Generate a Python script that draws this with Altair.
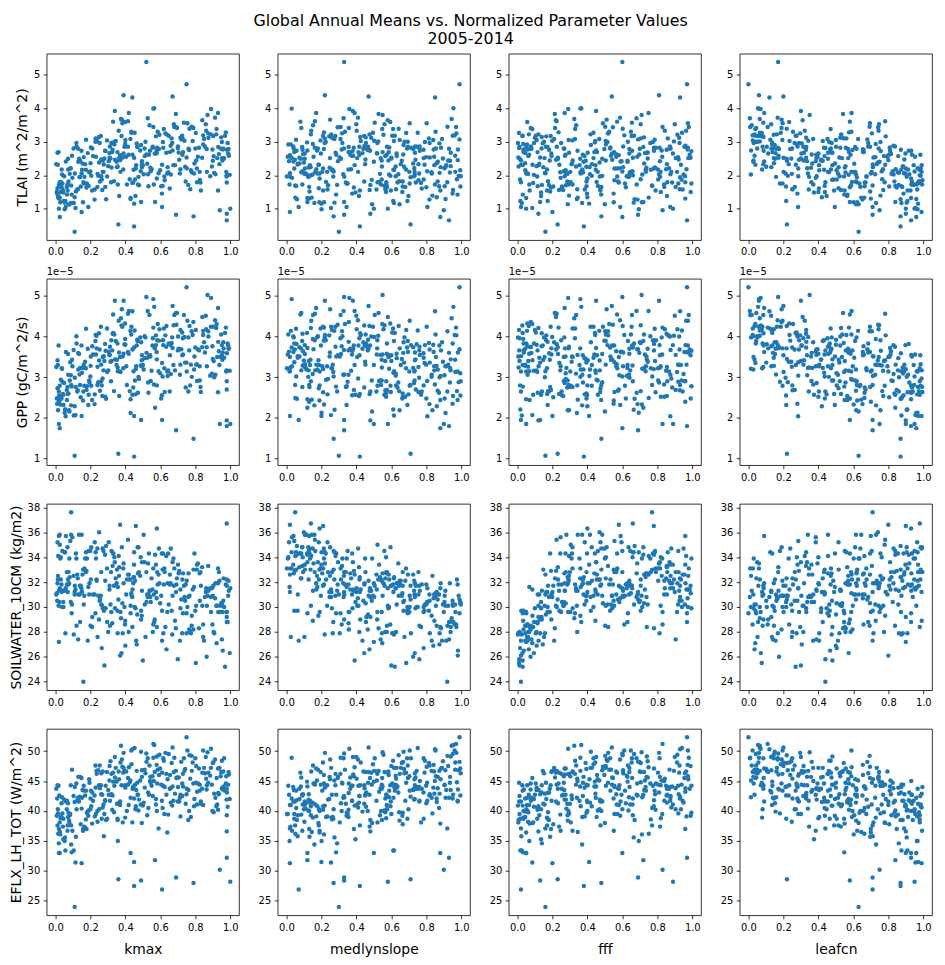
import altair as alt
import pandas as pd

# ---- parameter values (normalized, 0..1), one entry per ensemble member ----
kmax = [
    .03, .67, .21, .89, .45, .14, .76, .38, .58, .09,
    .97, .27, .61, .33, .81, .02, .49, .72, .17, .93,
    .40, .06, .55, .84, .24, .70, .12, .43, .99, .31,
    .64, .05, .86, .19, .47, .78, .26, .53, .01, .92,
    .35, .68, .11, .59, .80, .23, .44, .96, .15, .73,
    .37, .04, .62, .29, .85, .08, .51, .75, .20, .90,
    .42, .13, .66, .32, .98, .07, .56, .25, .83, .39,
    .16, .09, .52, .75, .11, .45, .36, .61, .79, 1.0,
    .69, .43, .98, .39, .67, .44, .87, .34, .56, .93,
    .035, .715, .285, .505, .945, .185, .625, .065, .825, .375,
    .145, .555, .305, .865, .225, .735, .025, .465, .915, .345,
    .095, .645, .265, .785, .055, .415, .955, .175, .605, .325,
    .885, .015, .485, .765, .245, .575, .125, .935, .395, .705,
    .205, .845, .445, .045, .665, .295, .985, .165, .535, .805,
    .075, .355, .595, .255, .975, .135, .635, .425, .895, .005,
    .215, .475, .755, .115, .655, .315, .925, .085, .545, .235,
    .815, .385, .195, .695, .455, .105, .585, .965, .275, .745,
    .155, .525, .875, .335, .615, .012, .405, .775, .565, .180,
    .725, .365, .855, .022, .495, .675, .435, .905, .028, .515,
    .362, .795, .952, .262, .642, .072, .472, .582, .992,
    .025, .98, .45, .94, .57, .49, .02, .15, .28, .50, .98, .46, .37, .58, .02,
    .018, .532, .284, .771, .093, .648, .415, .952, .193, .357,
    .874, .059, .468, .715, .236, .997, .141, .609, .327, .803,
    .025, .543, .398, .684, .117, .913, .262, .458, .761, .038,
    .592, .312, .826, .073, .495, .689, .166, .938, .378, .224,
    .575, .046, .729, .434, .121, .988, .287, .654, .174, .845,
    .352, .511, .066, .789, .253, .623, .409, .149, .908, .331,
    .008, .557, .203, .866, .453, .097, .677, .302, .962, .188,
    .617, .429, .053, .738, .277, .832, .131, .494, .948, .341,
    .599, .211, .701, .031, .447, .898, .162, .538, .388, .779,
    .241, .563, .082, .742, .364, .981, .138, .668, .318, .809,
    .012, .488, .249, .821, .057, .634, .372, .158, .922, .541,
    .104, .708, .309, .979, .201, .441, .069, .767, .296, .862,
    .016, .568, .383, .128, .793, .229, .957, .478, .088, .659,
    .337, .712, .178, .521, .889, .043, .399, .751, .271, .613,
    .931, .111, .462, .232, .692, .977, .036, .579, .356, .839,
    .152, .528, .268, .726, .014, .419, .903, .078, .629, .321,
]
medlynslope = [
    .57, .12, .88, .36, .03, .71, .48, .25, .94, .16,
    .62, .41, .79, .08, .53, .29, .67, .99, .45, .21,
    .84, .04, .37, .58, .13, .76, .32, .91, .47, .60,
    .19, .73, .40, .56, .09, .83, .28, .64, .95, .14,
    .50, .31, .86, .02, .69, .22, .77, .44, .11, .55,
    .98, .35, .61, .06, .89, .49, .18, .82, .27, .66,
    .39, .93, .15, .52, .74, .42, .97, .10, .34, .63,
    .92, .05, .33, .99, .30, .42, .71, .07, .27, .58,
    .33, .12, .48, .22, .47, .85, .55, .38, .03, .17,
    .80, .26, .68, .115, .855, .435, .755, .575, .205, .945,
    .665, .385, .015, .725, .235, .505, .145, .875, .325, .615,
    .965, .085, .785, .425, .275, .695, .545, .055, .905, .355,
    .625, .835, .175, .465, .985, .245, .515, .095, .745, .365,
    .595, .025, .635, .395, .815, .195, .455, .705, .285, .925,
    .665, .045, .555, .865, .215, .105, .475, .975, .625, .755,
    .375, .125, .705, .255, .585, .895, .405, .045, .805, .525,
    .155, .305, .935, .085, .545, .615, .335, .785, .165, .445,
    .725, .065, .485, .645, .225, .185, .845, .265, .955, .345,
    .605, .415, .735, .995, .295, .135, .495, .565, .215, .675,
    .142, .075, .792, .452, .882, .312, .572, .162, .382,
    .88, .93, .20, .90, .12, .33, .50, .02, .60, .39, .14, .21, .02, .19, .13,
    .412, .873, .058, .627, .284, .951, .163, .539, .733, .018,
    .318, .806, .467, .171, .648, .734, .936, .376, .092, .685,
    .521, .247, .594, .846, .132, .409, .997, .698, .042, .587,
    .214, .761, .488, .355, .909, .527, .023, .654, .445, .818,
    .105, .692, .309, .853, .575, .197, .378, .774, .261, .962,
    .138, .631, .979, .357, .819, .003, .541, .478, .876, .118,
    .663, .417, .588, .233, .751, .032, .561, .939, .083, .344,
    .712, .274, .201, .502, .064, .597, .866, .183, .453, .738,
    .994, .457, .039, .227, .616, .316, .799, .152, .684, .921,
    .103, .849, .535, .673, .249, .784, .331, .219, .571, .106,
    .735, .093, .422, .884, .611, .281, .966, .189, .548, .763,
    .329, .048, .517, .127, .859, .365, .091, .642, .268, .402,
    .051, .519, .802, .566, .177, .694, .981, .238, .904, .447,
    .011, .831, .386, .668, .256, .476, .151, .731, .583, .056,
    .356, .759, .914, .008, .293, .703, .258, .842, .546, .074,
    .612, .327, .953, .418, .186, .574, .209, .647, .972, .128,
]
fff = [
    .82, .45, .07, .29, .66, .93, .18, .51, .74, .37,
    .03, .88, .24, .57, .96, .14, .42, .69, .31, .79,
    .11, .59, .85, .22, .48, .01, .76, .34, .64, .99,
    .05, .27, .90, .46, .72, .36, .19, .81, .55, .12,
    .63, .98, .40, .16, .53, .86, .09, .70, .28, .44,
    .02, .92, .33, .67, .21, .50, .87, .13, .60, .39,
    .75, .08, .95, .25, .58, .17, .83, .47, .30, .64,
    .02, .77, .60, .97, .16, .38, .23, .02, .48, .89,
    .69, .05, .12, .81, .54, .93, .71, .45, .36, .27,
    .62, .10, .84, .415, .265, .045, .555, .905, .735, .325,
    .205, .975, .595, .075, .385, .655, .345, .145, .875, .505,
    .535, .245, .015, .445, .665, .955, .185, .785, .395, .115,
    .625, .295, .825, .035, .485, .165, .945, .565, .225, .745,
    .425, .055, .885, .135, .705, .315, .095, .615, .275, .505,
    .395, .035, .915, .575, .235, .485, .065, .705, .335, .855,
    .195, .635, .975, .085, .455, .745, .155, .555, .265, .895,
    .685, .005, .375, .215, .805, .025, .525, .435, .645, .285,
    .725, .125, .925, .175, .775, .475, .565, .045, .365, .995,
    .105, .855, .605, .255, .815, .355, .435, .062, .712, .152,
    .965, .312, .515, .922, .412, .232, .682, .792, .272,
    .60, .97, .41, .83, .72, .13, .05, .20, .012, .03, .66, .78, .58, .40, .96,
    .553, .116, .781, .342, .031, .667, .224, .905, .459, .068,
    .518, .874, .163, .967, .293, .094, .629, .398, .853, .009,
    .305, .738, .056, .446, .187, .587, .958, .135, .268, .714,
    .497, .077, .939, .371, .604, .214, .816, .426, .028, .687,
    .889, .173, .329, .649, .051, .541, .995, .253, .763, .611,
    .148, .384, .479, .076, .927, .571, .292, .656, .157, .443,
    .991, .012, .532, .819, .941, .247, .705, .109, .359, .588,
    .813, .468, .694, .199, .022, .474, .378, .086, .724, .542,
    .276, .138, .872, .453, .733, .058, .919, .336, .804, .502,
    .061, .839, .287, .394, .977, .181, .638, .003, .857, .568,
    .402, .658, .139, .781, .017, .295, .913, .551, .085, .344,
    .876, .221, .729, .471, .044, .985, .315, .602, .113, .843,
    .751, .194, .489, .929, .362, .632, .037, .277, .583, .961,
    .506, .058, .192, .697, .418, .238, .033, .867, .316, .771,
    .172, .641, .121, .828, .546, .302, .169, .973, .007, .231,
    .448, .681, .262, .374, .935, .067, .653, .288, .519, .787,
]
leafcn = [
    .40, .81, .55, .07, .33, .62, .94, .19, .48, .73,
    .27, .99, .04, .58, .36, .86, .15, .68, .23, .91,
    .50, .09, .77, .31, .64, .44, .03, .96, .57, .20,
    .70, .39, .13, .84, .61, .46, .08, .92, .28, .53,
    .75, .01, .42, .89, .25, .56, .98, .16, .34, .66,
    .80, .18, .47, .87, .37, .63, .05, .52, .95, .22,
    .59, .14, .83, .29, .67, .49, .11, .74, .97, .40,
    .44, .71, .17, .00, .63, .87, .22, .71, .87, .95,
    .71, .93, .90, .06, .20, .12, .35, .30, .06, .09,
    .58, .33, .88, .615, .745, .155, .995, .265, .455, .065,
    .805, .525, .385, .175, .965, .085, .645, .305, .725, .425,
    .035, .855, .505, .235, .905, .695, .415, .125, .875, .575,
    .285, .755, .015, .595, .225, .785, .345, .815, .105, .475,
    .985, .135, .665, .375, .545, .025, .685, .195, .935, .315,
    .835, .465, .145, .615, .575, .455, .035, .765, .885, .085,
    .435, .905, .195, .955, .655, .245, .535, .285, .825, .065,
    .395, .715, .555, .045, .485, .875, .255, .145, .705, .935,
    .365, .605, .525, .975, .755, .515, .795, .405, .055, .635,
    .275, .565, .685, .215, .335, .945, .185, .775, .602, .052,
    .322, .495, .462, .892, .712, .152, .932, .432, .172,
    .96, .93, .97, .75, .84, .58, .90, .99, .30, .48, .98, .90, .80, .93, .70,
    .137, .664, .917, .251, .548, .042, .782, .389, .611, .963,
    .706, .284, .501, .842, .194, .573, .425, .887, .329, .076,
    .779, .358, .233, .991, .696, .167, .522, .447, .618, .014,
    .239, .838, .478, .913, .131, .541, .347, .734, .071, .652,
    .898, .216, .452, .589, .081, .303, .757, .403, .979, .024,
    .516, .857, .566, .189, .264, .674, .948, .087, .861, .136,
    .437, .314, .808, .597, .065, .385, .747, .555, .218, .494,
    .168, .627, .967, .342, .711, .927, .028, .782, .536, .416,
    .504, .131, .281, .592, .874, .658, .726, .019, .472, .693,
    .248, .371, .818, .102, .571, .872, .158, .476, .619, .985,
    .318, .762, .086, .557, .909, .455, .201, .622, .039, .931,
    .471, .289, .812, .676, .146, .388, .993, .219, .547, .744,
    .663, .113, .695, .252, .896, .044, .467, .587, .336, .829,
    .277, .512, .848, .362, .163, .529, .728, .968, .029, .436,
    .331, .212, .404, .953, .742, .588, .078, .654, .882, .171,
    .433, .008, .771, .983, .271, .584, .057, .616, .296, .551,
]

# ---- global annual means 2005-2014, same member order ----
tlai = [
    1.50, 2.74, 1.54, 3.98, 2.52, 1.94, 1.71, 3.66, 2.67, 1.17,
    3.18, 2.10, 2.31, 3.60, 1.79, 1.71, 2.90, 3.07, 2.33, 1.54,
    3.05, 2.41, 2.18, 3.64, 1.65, 2.81, 2.96, 1.29, 2.78, 2.52,
    2.05, 1.97, 3.52, 1.68, 2.84, 2.09, 3.17, 2.03, 1.45, 3.22,
    2.40, 3.44, 1.34, 2.06, 2.80, 3.10, 1.77, 2.79, 2.05, 2.69,
    2.45, 1.75, 3.38, 1.28, 3.08, 1.13, 2.80, 2.53, 2.11, 2.43,
    3.86, 2.79, 2.02, 2.96, 1.78, 1.54, 3.44, 2.38, 1.78, 2.65,
    1.79, 1.69, 5.38, 4.72, 0.31, 0.47, 0.53, 1.05, 0.77, 1.00,
    0.82, 1.32, 0.85, 4.39, 4.35, 4.32, 3.80, 3.92, 3.99, 3.86,
    1.64, 3.12, 1.65, 2.03, 2.80, 2.66, 1.85, 1.65, 2.10, 3.68,
    1.66, 2.82, 2.42, 2.78, 1.57, 3.57, 1.33, 2.95, 2.03, 3.02,
    2.58, 2.09, 1.87, 3.02, 1.18, 2.85, 2.44, 3.06, 1.67, 2.69,
    1.97, 1.39, 2.74, 2.75, 1.98, 3.16, 1.57, 2.63, 2.85, 2.68,
    1.98, 2.92, 1.78, 1.48, 3.10, 3.04, 2.96, 1.75, 2.61, 2.44,
    1.81, 2.69, 3.21, 1.81, 3.28, 2.49, 3.22, 1.88, 2.26, 2.33,
    2.57, 1.95, 3.55, 1.02, 2.69, 2.50, 2.51, 2.20, 2.12, 3.01,
    2.55, 2.53, 2.08, 3.41, 1.87, 1.17, 3.30, 2.51, 2.10, 1.81,
    2.35, 2.34, 3.12, 1.82, 2.99, 1.61, 2.55, 2.15, 4.00, 1.75,
    3.18, 1.38, 2.86, 1.66, 2.42, 2.30, 3.27, 2.57, 1.19, 3.00,
    3.33, 2.35, 2.99, 2.47, 2.24, 2.49, 1.72, 2.82, 2.58,
    0.75, 0.65, 1.15, 0.95, 1.20, 1.20, 1.00, 0.90, 2.50, 2.30, 2.00, 2.20, 2.60, 1.90, 1.30,
    2.69, 1.67, 2.73, 1.58, 1.42, 3.18, 3.61, 2.51, 2.10, 1.72,
    3.25, 1.05, 2.85, 2.18, 3.05, 2.01, 2.43, 1.45, 2.76, 3.26,
    1.79, 2.22, 3.59, 2.30, 1.51, 3.72, 1.97, 1.38, 2.79, 2.02,
    2.78, 2.86, 1.86, 2.17, 2.24, 3.83, 1.95, 2.33, 3.17, 1.27,
    2.65, 1.23, 3.08, 3.30, 2.85, 2.65, 2.72, 1.60, 2.16, 3.19,
    2.24, 2.57, 1.42, 3.41, 2.96, 1.96, 1.72, 2.73, 2.07, 2.98,
    1.50, 2.85, 2.83, 2.10, 3.27, 1.92, 3.52, 2.27, 2.49, 1.05,
    2.82, 3.08, 0.98, 3.03, 2.32, 1.54, 2.40, 2.31, 3.13, 2.46,
    2.15, 2.80, 2.86, 1.80, 2.16, 2.77, 2.54, 3.49, 2.17, 3.45,
    2.04, 1.72, 2.04, 2.25, 2.51, 2.76, 1.95, 2.96, 1.79, 2.20,
    2.67, 2.12, 3.14, 2.82, 1.23, 2.67, 2.10, 1.19, 3.38, 2.73,
    2.80, 2.46, 2.66, 1.96, 2.36, 2.61, 1.72, 3.39, 1.96, 3.33,
    1.33, 2.65, 3.55, 1.58, 2.05, 3.00, 2.77, 1.70, 2.21, 2.88,
    2.92, 2.05, 1.63, 2.62, 3.22, 1.56, 2.93, 2.21, 2.44, 1.68,
    2.84, 2.05, 2.30, 2.55, 3.43, 2.10, 2.17, 2.77, 2.26, 2.52,
    2.16, 3.70, 1.56, 2.61, 2.31, 2.61, 3.17, 1.13, 3.25, 2.23,
]
gpp_1e5 = [  # GPP in units of 1e-5 gC/m^2/s
    2.52, 3.72, 2.44, 4.95, 3.73, 2.81, 2.65, 4.67, 3.44, 2.31,
    4.09, 2.97, 3.35, 4.54, 2.91, 2.65, 3.86, 3.69, 3.38, 2.63,
    3.80, 3.62, 3.16, 4.48, 2.81, 3.66, 4.01, 2.12, 3.70, 3.54,
    3.14, 2.86, 4.51, 2.57, 3.89, 3.01, 4.24, 2.87, 2.35, 4.21,
    3.30, 4.53, 2.29, 3.15, 3.73, 4.04, 2.57, 3.86, 3.23, 3.56,
    3.14, 2.89, 4.20, 2.47, 3.86, 2.16, 4.01, 3.36, 3.02, 3.45,
    4.63, 3.60, 3.08, 3.91, 2.70, 2.59, 4.22, 3.41, 2.76, 3.58,
    2.65, 2.81, 4.97, 5.21, 1.07, 1.05, 1.12, 1.95, 1.49, 1.85,
    1.70, 2.46, 1.94, 4.88, 4.75, 4.62, 5.02, 4.88, 4.92, 4.70,
    2.48, 4.16, 2.52, 3.19, 3.50, 3.70, 2.64, 2.69, 3.27, 4.45,
    2.51, 3.78, 3.63, 3.74, 2.58, 4.53, 2.45, 3.78, 3.06, 3.89,
    3.43, 3.17, 2.80, 4.04, 2.20, 3.62, 3.43, 4.19, 2.48, 3.66,
    3.04, 2.19, 3.98, 3.66, 2.88, 4.03, 2.65, 3.64, 3.81, 3.70,
    2.79, 4.14, 2.75, 2.57, 3.84, 4.20, 3.83, 2.79, 3.51, 3.31,
    2.60, 3.83, 4.18, 2.67, 4.22, 3.57, 4.26, 2.66, 3.09, 3.25,
    3.56, 3.01, 4.39, 2.07, 3.54, 3.38, 3.50, 3.37, 2.91, 4.02,
    3.69, 3.51, 2.87, 4.58, 2.92, 2.06, 4.31, 3.48, 3.17, 2.75,
    3.23, 3.48, 4.00, 2.66, 3.91, 2.73, 3.27, 3.31, 4.73, 2.78,
    4.10, 2.54, 3.61, 2.55, 3.54, 3.30, 4.24, 3.40, 2.33, 3.98,
    4.39, 3.51, 3.79, 3.31, 3.03, 3.57, 2.62, 3.91, 3.71,
    1.75, 1.80, 2.05, 1.85, 2.25, 1.95, 1.85, 2.05, 3.40, 3.30, 2.90, 3.20, 3.50, 2.80, 2.40,
    3.78, 2.62, 3.82, 2.80, 2.77, 3.83, 4.56, 3.55, 2.92, 3.15,
    4.13, 2.04, 3.92, 3.31, 3.71, 3.16, 3.23, 2.56, 4.07, 4.16,
    2.79, 3.51, 4.32, 3.17, 2.76, 4.40, 2.90, 2.58, 3.98, 3.21,
    3.90, 3.75, 2.92, 3.06, 3.27, 4.58, 3.24, 3.30, 4.27, 2.34,
    3.79, 2.32, 3.96, 4.05, 3.83, 3.78, 3.65, 2.65, 3.22, 4.04,
    3.43, 3.47, 2.44, 4.36, 3.68, 3.22, 2.81, 3.78, 3.00, 4.09,
    2.48, 3.96, 3.51, 3.27, 4.15, 3.27, 4.28, 3.17, 3.71, 2.32,
    3.79, 4.14, 2.13, 3.99, 3.52, 2.64, 3.19, 3.42, 4.05, 3.44,
    3.10, 3.76, 4.00, 2.94, 3.15, 3.76, 3.31, 4.53, 3.22, 4.13,
    3.26, 2.82, 2.92, 3.36, 3.61, 3.59, 3.07, 3.98, 2.90, 3.32,
    3.42, 3.29, 4.08, 3.66, 2.21, 3.75, 3.13, 2.43, 4.31, 3.55,
    3.67, 3.68, 3.56, 3.17, 3.28, 3.68, 2.76, 4.26, 3.13, 4.18,
    2.49, 3.71, 4.24, 2.68, 3.19, 3.89, 3.61, 2.96, 3.05, 3.79,
    4.05, 3.06, 2.69, 3.60, 4.24, 2.59, 3.94, 3.14, 3.50, 3.02,
    3.87, 2.99, 3.27, 3.56, 4.29, 3.14, 3.22, 3.62, 3.24, 3.74,
    3.11, 4.63, 2.54, 3.54, 3.30, 3.58, 4.24, 2.19, 4.03, 3.40,
]
soilwater = [
    34.0, 33.6, 28.4, 29.6, 34.4, 31.7, 30.8, 34.8, 28.4, 35.8,
    25.2, 34.7, 29.7, 34.3, 33.4, 31.3, 29.7, 30.6, 33.9, 33.1,
    26.9, 35.7, 32.3, 30.1, 34.7, 25.8, 33.9, 30.1, 32.1, 31.7,
    29.6, 31.3, 31.2, 34.5, 34.8, 29.3, 30.9, 33.5, 30.5, 30.1,
    31.9, 33.1, 31.2, 32.6, 29.7, 34.4, 28.4, 30.5, 35.8, 32.7,
    26.1, 34.5, 31.8, 34.9, 27.3, 33.9, 33.6, 27.9, 34.5, 30.9,
    32.6, 27.4, 34.7, 29.6, 31.7, 31.2, 28.6, 36.0, 32.8, 31.9,
    24.0, 37.6, 32.8, 29.5, 31.0, 32.4, 30.6, 27.3, 33.0, 31.5,
    31.2, 29.5, 29.2, 33.5, 30.9, 30.8, 30.9, 33.6, 33.1, 31.9,
    31.8, 29.9, 32.1, 35.8, 30.1, 27.3, 32.8, 32.8, 32.7, 29.1,
    31.7, 31.4, 35.2, 26.0, 35.2, 31.7, 35.8, 27.0, 31.9, 32.3,
    30.2, 34.3, 26.7, 31.4, 34.4, 32.6, 29.6, 34.4, 30.9, 28.7,
    31.5, 32.5, 32.5, 28.2, 30.9, 31.2, 32.6, 32.8, 30.0, 32.7,
    34.8, 27.6, 31.9, 30.4, 29.7, 33.1, 28.8, 30.9, 34.3, 30.1,
    32.8, 29.7, 31.9, 30.6, 31.8, 35.8, 26.6, 32.2, 31.5, 31.0,
    31.0, 34.8, 30.0, 31.4, 32.6, 30.2, 30.1, 35.3, 30.4, 32.2,
    33.5, 27.9, 31.9, 32.3, 32.1, 27.8, 31.8, 30.0, 34.5, 31.8,
    32.6, 31.0, 31.3, 31.7, 34.3, 35.2, 31.0, 27.9, 28.8, 33.9,
    27.9, 33.2, 30.8, 30.4, 33.6, 33.9, 30.9, 28.0, 33.9, 27.6,
    34.1, 34.3, 30.2, 32.8, 31.9, 32.2, 32.7, 32.8, 31.3,
    31.5, 28.8, 33.4, 29.6, 34.2, 29.0, 27.2, 31.2, 25.3, 25.7, 36.7, 36.5, 36.6, 36.3, 35.7,
    30.1, 31.0, 34.2, 28.0, 29.5, 30.2, 35.4, 27.4, 31.0, 31.6,
    33.3, 31.5, 29.4, 31.4, 32.1, 26.3, 28.8, 34.3, 33.3, 25.5,
    35.0, 30.8, 28.6, 28.9, 34.3, 30.7, 30.2, 29.9, 32.7, 30.0,
    34.7, 28.5, 30.5, 31.8, 31.3, 28.3, 33.1, 32.1, 26.3, 31.0,
    33.4, 30.0, 29.5, 31.1, 28.5, 30.9, 29.9, 31.8, 32.8, 28.6,
    33.0, 30.2, 31.8, 28.2, 30.5, 33.1, 32.2, 31.5, 27.9, 34.3,
    31.1, 28.0, 32.2, 30.1, 30.0, 35.6, 31.7, 28.0, 32.3, 31.6,
    27.9, 32.2, 34.4, 30.8, 29.7, 31.7, 31.0, 29.3, 30.3, 29.9,
    30.3, 29.2, 33.4, 32.2, 32.4, 28.6, 30.2, 31.3, 33.1, 28.5,
    27.6, 31.0, 32.4, 30.5, 32.5, 29.6, 31.0, 27.8, 32.8, 33.0,
    31.9, 34.0, 29.0, 28.3, 27.9, 34.1, 29.6, 33.0, 27.1, 31.3,
    32.5, 32.9, 31.4, 32.2, 28.5, 31.4, 34.8, 30.9, 28.8, 31.5,
    34.1, 29.0, 30.3, 32.3, 31.6, 29.5, 26.5, 32.8, 30.4, 31.9,
    34.0, 27.3, 32.9, 30.4, 30.8, 31.3, 28.9, 32.1, 29.9, 33.0,
    29.6, 31.7, 27.3, 33.9, 31.8, 29.6, 31.2, 30.7, 27.9, 33.2,
    31.2, 30.8, 30.1, 32.2, 32.2, 28.0, 31.7, 31.9, 28.4, 34.5,
]
eflx = [
    38.8, 44.1, 37.9, 50.4, 42.1, 42.4, 38.5, 48.6, 49.1, 34.4,
    43.4, 40.6, 46.4, 46.4, 43.2, 34.6, 49.9, 48.2, 42.6, 40.2,
    43.9, 41.6, 44.2, 46.4, 40.0, 41.6, 44.6, 42.2, 46.5, 47.5,
    36.4, 41.9, 49.0, 40.1, 42.7, 46.7, 44.3, 43.1, 42.1, 40.8,
    44.9, 48.9, 41.5, 37.1, 48.8, 43.9, 38.1, 46.6, 40.4, 44.1,
    41.6, 39.6, 48.4, 38.5, 47.2, 38.0, 46.9, 42.8, 40.3, 48.0,
    47.3, 42.2, 41.4, 46.2, 43.7, 37.6, 51.2, 40.3, 41.2, 47.2,
    37.1, 37.6, 49.6, 52.3, 24.0, 27.5, 28.6, 26.9, 28.0, 28.2,
    28.9, 33.0, 36.6, 49.7, 50.6, 50.3, 49.8, 49.0, 48.9, 47.1,
    41.3, 42.7, 41.7, 41.4, 45.8, 39.9, 44.0, 40.3, 43.4, 50.9,
    37.8, 45.8, 42.7, 43.6, 39.1, 48.8, 36.5, 46.7, 42.2, 47.2,
    46.9, 39.4, 38.7, 48.1, 35.6, 45.5, 43.7, 43.4, 44.4, 40.2,
    45.9, 39.6, 45.1, 40.0, 46.8, 42.0, 41.7, 42.8, 46.7, 45.6,
    40.8, 41.0, 44.1, 35.3, 48.0, 46.5, 40.7, 43.4, 42.7, 47.5,
    39.7, 38.7, 49.4, 43.8, 44.6, 41.6, 42.7, 44.8, 44.4, 43.7,
    41.7, 40.1, 50.1, 31.4, 46.0, 48.3, 41.1, 39.5, 44.7, 46.7,
    44.6, 38.1, 44.7, 45.6, 44.4, 33.4, 46.9, 48.8, 41.1, 41.2,
    43.5, 39.3, 46.4, 39.8, 44.2, 37.6, 46.6, 39.0, 51.0, 39.7,
    44.6, 41.4, 46.3, 42.6, 45.7, 41.7, 47.8, 39.8, 36.1, 46.3,
    46.6, 42.0, 48.4, 42.8, 45.3, 41.3, 42.7, 44.6, 46.1,
    33.0, 32.2, 31.5, 30.2, 31.8, 28.4, 33.0, 31.3, 39.5, 40.9, 39.3, 40.8, 41.0, 40.0, 37.0,
    44.2, 40.5, 41.8, 45.4, 33.1, 49.5, 44.4, 43.8, 45.3, 35.0,
    44.7, 41.7, 44.7, 39.1, 46.2, 42.0, 45.7, 41.7, 42.6, 44.7,
    38.1, 45.7, 44.3, 42.9, 35.7, 48.6, 46.3, 40.3, 43.5, 42.3,
    46.0, 41.7, 44.4, 39.0, 46.8, 46.7, 37.4, 47.2, 44.3, 42.6,
    41.1, 38.7, 46.2, 50.1, 40.3, 44.4, 44.2, 43.7, 38.6, 50.1,
    41.2, 43.9, 41.7, 44.6, 47.6, 39.5, 40.0, 45.5, 42.9, 44.9,
    39.2, 42.5, 43.4, 44.3, 50.5, 36.7, 46.5, 43.5, 44.1, 39.2,
    48.8, 45.1, 35.0, 46.7, 35.8, 41.6, 45.7, 38.0, 46.5, 45.6,
    47.1, 43.1, 44.0, 39.0, 44.0, 40.0, 44.2, 47.6, 46.4, 49.2,
    38.2, 45.0, 39.3, 47.0, 45.3, 43.1, 42.3, 40.9, 42.7, 41.1,
    44.3, 41.1, 44.3, 47.1, 33.4, 46.2, 48.1, 36.7, 45.5, 45.0,
    42.5, 41.6, 45.1, 41.9, 42.1, 43.7, 36.7, 49.3, 38.7, 45.4,
    36.2, 46.5, 47.4, 42.1, 40.8, 47.6, 43.6, 41.9, 44.3, 43.8,
    44.2, 42.2, 37.0, 48.2, 47.2, 37.4, 38.9, 43.7, 46.6, 40.5,
    43.0, 44.0, 43.5, 39.5, 45.5, 45.8, 38.9, 47.7, 38.5, 43.7,
    42.2, 48.8, 42.7, 42.5, 40.3, 41.0, 48.1, 38.4, 49.7, 42.8,
]

params = ["kmax", "medlynslope", "fff", "leafcn"]
x_ticks = [0.0, 0.2, 0.4, 0.6, 0.8, 1.0]
outputs = [
    ("TLAI", "TLAI (m^2/m^2)", [0.06, 5.63], [1, 2, 3, 4, 5]),
    ("GPP", "GPP (gC/m^2/s)", [0.84, 5.42], [1, 2, 3, 4, 5]),
    ("SOILWATER_10CM", "SOILWATER_10CM (kg/m2)", [23.32, 38.28], [24, 26, 28, 30, 32, 34, 36, 38]),
    ("EFLX_LH_TOT", "EFLX_LH_TOT (W/m^2)", [22.6, 53.7], [25, 30, 35, 40, 45, 50]),
]

df = pd.DataFrame({
    "kmax": kmax, "medlynslope": medlynslope, "fff": fff, "leafcn": leafcn,
    "TLAI": tlai, "GPP": gpp_1e5, "SOILWATER_10CM": soilwater, "EFLX_LH_TOT": eflx,
})

FONT = "DejaVu Sans"
W, H = 194, 188

panels = []
for i, (col, ytitle, dom, yt) in enumerate(outputs):
    for j, p in enumerate(params):
        if i == 3:
            xaxis = alt.Axis(values=x_ticks, format=".1f", title=p, titlePadding=11)
        else:
            xaxis = alt.Axis(values=x_ticks, format=".1f", title=None)
        if j == 0:
            yaxis = alt.Axis(values=yt, format="d", title=ytitle, titlePadding=4)
        else:
            yaxis = alt.Axis(values=yt, format="d", title=None)
        pts = alt.Chart(df).mark_circle(size=20, color="#1f77b4", opacity=1).encode(
            x=alt.X(f"{p}:Q", scale=alt.Scale(domain=[-0.05, 1.05], nice=False, zero=False), axis=xaxis),
            y=alt.Y(f"{col}:Q", scale=alt.Scale(domain=dom, nice=False, zero=False), axis=yaxis),
        )
        if col == "GPP":
            off = alt.Chart(pd.DataFrame({"t": ["1e\u22125"]})).mark_text(
                align="left", baseline="alphabetic", fontSize=10, font=FONT, color="#000000"
            ).encode(text="t:N", x=alt.value(0), y=alt.value(-4))
            panel = alt.layer(pts, off).properties(width=W, height=H)
        else:
            panel = pts.properties(width=W, height=H)
        panels.append(panel)

chart = alt.concat(
    *panels, columns=4, spacing={"row": 39, "column": 39}, bounds="flush",
    title=alt.TitleParams(
        text=["Global Annual Means vs. Normalized Parameter Values", "2005-2014"],
        fontSize=16, font=FONT, fontWeight="normal", color="#000000",
        anchor="middle", offset=6, lineHeight=19,
    ),
).properties(
    padding={"left": 0, "top": 0, "right": 4, "bottom": 0},
    background="white",
).configure_view(
    stroke="#000000", strokeWidth=0.8,
).configure_axis(
    domain=False, grid=False, ticks=True, tickColor="#000000", tickSize=3.5, tickWidth=0.8,
    labelFont=FONT, labelFontSize=10, labelColor="#000000", labelPadding=3.5,
    labelFlush=False, labelOverlap=False,
    titleFont=FONT, titleFontSize=14, titleFontWeight="normal", titleColor="#000000",
)

chart.save("out.html", embed_options={"renderer": "svg", "actions": False})
